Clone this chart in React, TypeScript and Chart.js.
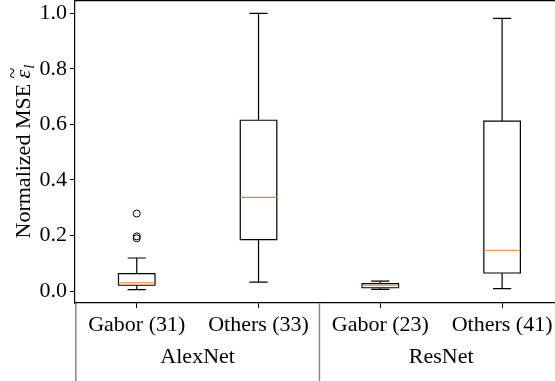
import React, { useEffect, useRef } from "react";
import { Chart, registerables } from "chart.js";

Chart.register(...registerables);

const categories = ["Gabor (31)", "Others (33)", "Gabor (23)", "Others (41)"];
const groups = ["AlexNet", "ResNet"];
const whiskerLow = [0.005, 0.032, 0.006, 0.009];
const q1 = [0.021, 0.185, 0.012, 0.065];
const median = [0.03, 0.337, 0.021, 0.147];
const q3 = [0.063, 0.615, 0.027, 0.612];
const whiskerHigh = [0.119, 1.0, 0.036, 0.982];
const outlierCat = [0, 0, 0];
const outlierVal = [0.279, 0.197, 0.19];
const yTicks = [0, 0.2, 0.4, 0.6, 0.8, 1.0];

const FONT = "'Liberation Serif', 'Times New Roman', serif";

const boxPlugin = {
  id: "boxes",
  afterDatasetsDraw(chart: any) {
    const ctx = chart.ctx;
    const x = chart.scales.x;
    const y = chart.scales.y;
    ctx.save();
    ctx.beginPath();
    for (let i = 0; i < categories.length; i++) {
      const xc = x.getPixelForValue(i);
      const half = x.getPixelForValue(i + 0.15) - xc;
      const cap = half / 2;
      const yl = y.getPixelForValue(whiskerLow[i]);
      const y1 = y.getPixelForValue(q1[i]);
      const ym = y.getPixelForValue(median[i]);
      const y3 = y.getPixelForValue(q3[i]);
      const yh = y.getPixelForValue(whiskerHigh[i]);
      ctx.strokeStyle = "#000";
      ctx.lineWidth = 1.2;
      ctx.beginPath();
      ctx.moveTo(xc, y3);
      ctx.lineTo(xc, yh);
      ctx.moveTo(xc - cap, yh);
      ctx.lineTo(xc + cap, yh);
      ctx.moveTo(xc, y1);
      ctx.lineTo(xc, yl);
      ctx.moveTo(xc - cap, yl);
      ctx.lineTo(xc + cap, yl);
      ctx.rect(xc - half, y3, half * 2, y1 - y3);
      ctx.stroke();
      ctx.strokeStyle = "#ff7f0e";
      ctx.beginPath();
      ctx.moveTo(xc - half, ym);
      ctx.lineTo(xc + half, ym);
      ctx.stroke();
    }
    ctx.beginPath();
    ctx.restore();
  },
  afterDraw(chart: any) {
    const ctx = chart.ctx;
    const x = chart.scales.x;
    const area = chart.chartArea;
    const H = chart.height;
    ctx.save();
    ctx.beginPath();
    // top spine
    ctx.strokeStyle = "#000";
    ctx.lineWidth = 1.2;
    ctx.beginPath();
    ctx.moveTo(area.left, area.top + 0.6);
    ctx.lineTo(area.right, area.top + 0.6);
    ctx.stroke();
    // group separators
    ctx.strokeStyle = "#888";
    ctx.lineWidth = 1.5;
    ctx.beginPath();
    [-0.5, 1.5].forEach((v) => {
      const px = Math.max(x.getPixelForValue(v), area.left);
      ctx.moveTo(px, area.bottom);
      ctx.lineTo(px, H);
    });
    ctx.stroke();
    ctx.beginPath();
    // group labels
    ctx.fillStyle = "#000";
    ctx.font = `22px ${FONT}`;
    ctx.textAlign = "center";
    ctx.textBaseline = "middle";
    groups.forEach((g, k) => {
      const px = (x.getPixelForValue(2 * k) + x.getPixelForValue(2 * k + 1)) / 2;
      ctx.fillText(g, px, 357);
    });
    // y title
    const cy = (area.top + area.bottom) / 2;
    ctx.translate(24, cy);
    ctx.rotate(-Math.PI / 2);
    ctx.textAlign = "left";
    ctx.textBaseline = "middle";
    const main = "Normalized MSE ";
    ctx.font = `22px ${FONT}`;
    const wMain = ctx.measureText(main).width;
    ctx.font = `italic 22px ${FONT}`;
    const wEps = ctx.measureText("ε").width;
    ctx.font = `italic 15px ${FONT}`;
    const wL = ctx.measureText("l").width;
    const total = wMain + wEps + wL + 1;
    let cx = -total / 2;
    ctx.font = `22px ${FONT}`;
    ctx.fillText(main, cx, 0);
    cx += wMain;
    ctx.font = `italic 22px ${FONT}`;
    ctx.fillText("ε", cx, 0);
    ctx.font = `20px ${FONT}`;
    ctx.textAlign = "center";
    ctx.fillText("~", cx + wEps / 2 + 1, -10);
    ctx.textAlign = "left";
    ctx.font = `italic 15px ${FONT}`;
    ctx.fillText("l", cx + wEps + 1, 6);
    ctx.restore();
  },
};

export default function App() {
  const ref = useRef<HTMLCanvasElement>(null);
  useEffect(() => {
    document.body.style.margin = "0";
    const chart = new Chart(ref.current!, {
      type: "scatter",
      data: {
        datasets: [
          {
            data: outlierCat.map((c, i) => ({ x: c, y: outlierVal[i] })),
            borderColor: "#000",
            backgroundColor: "rgba(0,0,0,0)",
            pointRadius: 3.5,
            borderWidth: 1,
          },
        ],
      },
      options: {
        animation: false,
        responsive: false,
        maintainAspectRatio: false,
        events: [],
        layout: { padding: 0, autoPadding: false },
        plugins: { legend: { display: false }, tooltip: { enabled: false } },
        scales: {
          x: {
            type: "linear",
            min: -0.507,
            max: 3.5,
            afterBuildTicks: (s: any) => {
              s.ticks = categories.map((_, i) => ({ value: i }));
            },
            afterFit: (s: any) => {
              s.height = 78;
              s.paddingLeft = 0;
              s.paddingRight = 0;
            },
            ticks: {
              callback: (v: any) => categories[Math.round(v)] ?? "",
              color: "#000",
              font: { family: FONT, size: 22 },
              padding: 4,
              maxRotation: 0,
              autoSkip: false,
            },
            grid: {
              drawOnChartArea: false,
              drawTicks: true,
              tickLength: 5,
              color: "#000",
              lineWidth: 1,
            },
            border: { display: true, color: "#000", width: 1.2 },
          },
          y: {
            type: "linear",
            min: -0.043,
            max: 1.048,
            afterBuildTicks: (s: any) => {
              s.ticks = yTicks.map((v) => ({ value: v }));
            },
            afterFit: (s: any) => {
              s.width = 75;
              s.paddingTop = 0;
              s.paddingBottom = 0;
            },
            ticks: {
              callback: (v: any) => Number(v).toFixed(1),
              color: "#000",
              font: { family: FONT, size: 22 },
              padding: 3,
            },
            grid: {
              drawOnChartArea: false,
              drawTicks: true,
              tickLength: 5,
              color: "#000",
              lineWidth: 1,
            },
            border: { display: true, color: "#000", width: 1.2 },
          },
        },
      },
      plugins: [boxPlugin],
    });
    return () => chart.destroy();
  }, []);
  return (
    <div style={{ position: "absolute", left: 0, top: 0, width: 555, height: 381, overflow: "hidden" }}>
      <canvas ref={ref} width={563} height={381} style={{ display: "block" }} />
    </div>
  );
}
